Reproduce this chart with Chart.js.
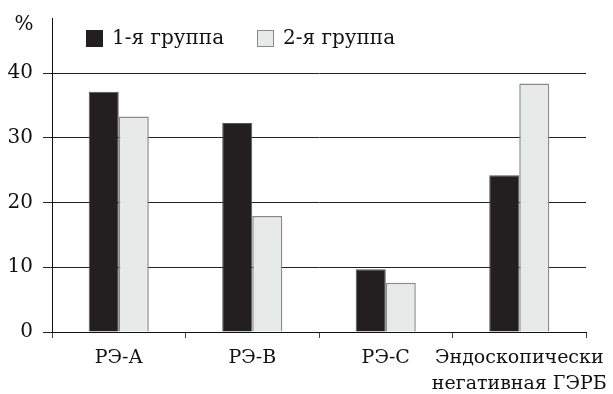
<!DOCTYPE html>
<html>
<head>
<meta charset="utf-8">
<script src="https://cdn.jsdelivr.net/npm/chart.js@4/dist/chart.umd.min.js"></script>
<style>
  html, body { margin: 0; padding: 0; background: #fff; }
  #wrap { width: 613px; height: 394px; }
</style>
</head>
<body>
<div id="wrap"><canvas id="chart"></canvas></div>
<script>
var categories = ['РЭ-А', 'РЭ-В', 'РЭ-С', ['Эндоскопически', 'негативная ГЭРБ']];
var group1 = [37.1, 32.3, 9.7, 24.2];
var group2 = [33.3, 17.9, 7.6, 38.4];
var seriesNames = ['1-я группа', '2-я группа'];
var yTicks = [0, 10, 20, 30, 40];

var FONT = 'DejaVu Serif';

// legend and "%" sit inside the plot, so draw them by hand
var overlay = {
  id: 'overlay',
  afterDraw: function(chart) {
    var c = chart.ctx;
    c.save();
    c.font = '20px "' + FONT + '"';
    c.textBaseline = 'middle';
    c.fillStyle = '#111';
    c.textAlign = 'center';
    c.fillText('%', 24, 25);
    c.textAlign = 'left';
    var items = [
      { x: 86, fill: '#231f20', stroke: '#231f20', text: seriesNames[0] },
      { x: 257, fill: '#e8eae9', stroke: '#888', text: seriesNames[1] }
    ];
    items.forEach(function(it) {
      c.fillStyle = it.fill;
      c.fillRect(it.x, 30, 17, 17);
      c.strokeStyle = it.stroke;
      c.lineWidth = 1;
      c.strokeRect(it.x + 0.5, 30.5, 16, 16);
      c.fillStyle = '#111';
      c.fillText(it.text, it.x + 26, 39);
    });
    c.restore();
  }
};

var ctx = document.getElementById('chart').getContext('2d');
var chart = new Chart(ctx, {
  type: 'bar',
  data: {
    labels: categories,
    datasets: [{
      label: seriesNames[0],
      data: group1,
      backgroundColor: '#231f20',
      borderColor: '#555',
      borderWidth: 1
    }, {
      label: seriesNames[1],
      data: group2,
      backgroundColor: '#e8eae9',
      borderColor: '#8a8a8a',
      borderWidth: 1.5
    }]
  },
  options: {
    responsive: true,
    maintainAspectRatio: false,
    animation: false,
    layout: { padding: { top: 18, right: 27, left: 0, bottom: 0 } },
    datasets: { bar: { categoryPercentage: 0.45, barPercentage: 1 } },
    plugins: { legend: { display: false }, tooltip: { enabled: false } },
    scales: {
      x: {
        grid: { offset: true, drawOnChartArea: false, color: '#444', tickLength: 6 },
        border: { color: '#111', width: 1 },
        ticks: {
          color: '#111', padding: 7, autoSkip: false, minRotation: 0, maxRotation: 0,
          font: { family: FONT, size: 19, lineHeight: 1.37 }
        },
        afterFit: function(s) {
          s.height = 62;
          s.paddingLeft = 0;
          s.paddingRight = 0;
        }
      },
      y: {
        min: 0,
        max: 48.5,
        afterBuildTicks: function(s) {
          s.ticks = yTicks.map(function(v) { return { value: v }; });
        },
        grid: { color: '#222', tickLength: 9 },
        border: { color: '#111', width: 1 },
        ticks: { color: '#111', padding: 10, font: { family: FONT, size: 20 } },
        afterFit: function(s) {
          s.width = 52;
          s.paddingTop = 0;
          s.paddingBottom = 0;
        }
      }
    }
  },
  plugins: [overlay]
});
</script>
</body>
</html>
